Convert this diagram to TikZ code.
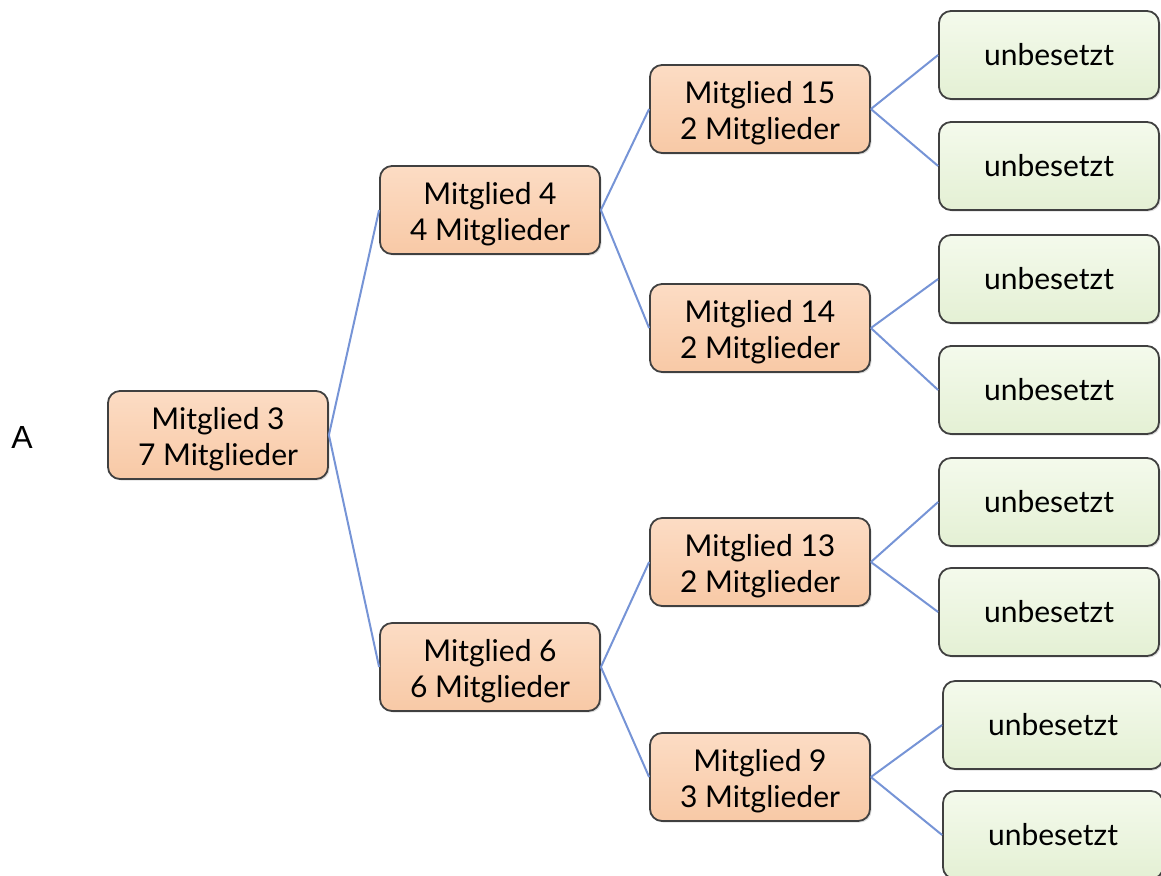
\documentclass[tikz,border=0pt]{standalone}
\usepackage{fontspec}
\setmainfont{Lato}
\newfontfamily\letterfont{Liberation Sans}
\usetikzlibrary{shadows}

\definecolor{peachtop}{RGB}{252,220,196}
\definecolor{peachbot}{RGB}{248,201,166}
\definecolor{greentop}{RGB}{244,250,236}
\definecolor{greenbot}{RGB}{228,240,212}
\definecolor{linkblue}{RGB}{118,148,214}

\begin{document}
\begin{tikzpicture}[x=0.5pt,y=-0.5pt,
    box/.style={draw=black!75, line width=0.9pt, rounded corners=6pt,
      minimum width=110pt, minimum height=44pt, inner sep=0pt,
      align=center, font=\fontsize{15}{18}\selectfont,
      drop shadow={shadow xshift=0.8pt, shadow yshift=-0.8pt, opacity=0.25}},
    member/.style={box, top color=peachtop, bottom color=peachbot,
      text height=34pt, text depth=3.5pt},
    empty/.style={box, top color=greentop, bottom color=greenbot},
    link/.style={draw=linkblue, line width=1pt}]
    \useasboundingbox (0,0) rectangle (1161,875);

    \node[font=\letterfont\fontsize{16}{18}\selectfont] (A) at (22,437) {A};

    \node[member] (m3) at (218,435) {Mitglied 3\\7 Mitglieder};

    \node[member] (m4) at (490,210) {Mitglied 4\\4 Mitglieder};
    \node[member] (m6) at (490,667) {Mitglied 6\\6 Mitglieder};

    \node[member] (m15) at (760,109) {Mitglied 15\\2 Mitglieder};
    \node[member] (m14) at (760,328) {Mitglied 14\\2 Mitglieder};
    \node[member] (m13) at (760,562) {Mitglied 13\\2 Mitglieder};
    \node[member] (m9) at (760,777) {Mitglied 9\\3 Mitglieder};

    \node[empty] (u1) at (1049,55) {unbesetzt};
    \node[empty] (u2) at (1049,166) {unbesetzt};
    \node[empty] (u3) at (1049,279) {unbesetzt};
    \node[empty] (u4) at (1049,390) {unbesetzt};
    \node[empty] (u5) at (1049,502) {unbesetzt};
    \node[empty] (u6) at (1049,612) {unbesetzt};
    \node[empty] (u7) at (1053,725) {unbesetzt};
    \node[empty] (u8) at (1053,835) {unbesetzt};

    \draw[link] (m3.east) -- (m4.west);
    \draw[link] (m3.east) -- (m6.west);

    \draw[link] (m4.east) -- (m15.west);
    \draw[link] (m4.east) -- (m14.west);
    \draw[link] (m6.east) -- (m13.west);
    \draw[link] (m6.east) -- (m9.west);

    \draw[link] (m15.east) -- (u1.west);
    \draw[link] (m15.east) -- (u2.west);
    \draw[link] (m14.east) -- (u3.west);
    \draw[link] (m14.east) -- (u4.west);
    \draw[link] (m13.east) -- (u5.west);
    \draw[link] (m13.east) -- (u6.west);
    \draw[link] (m9.east) -- (u7.west);
    \draw[link] (m9.east) -- (u8.west);
\end{tikzpicture}
\end{document}
